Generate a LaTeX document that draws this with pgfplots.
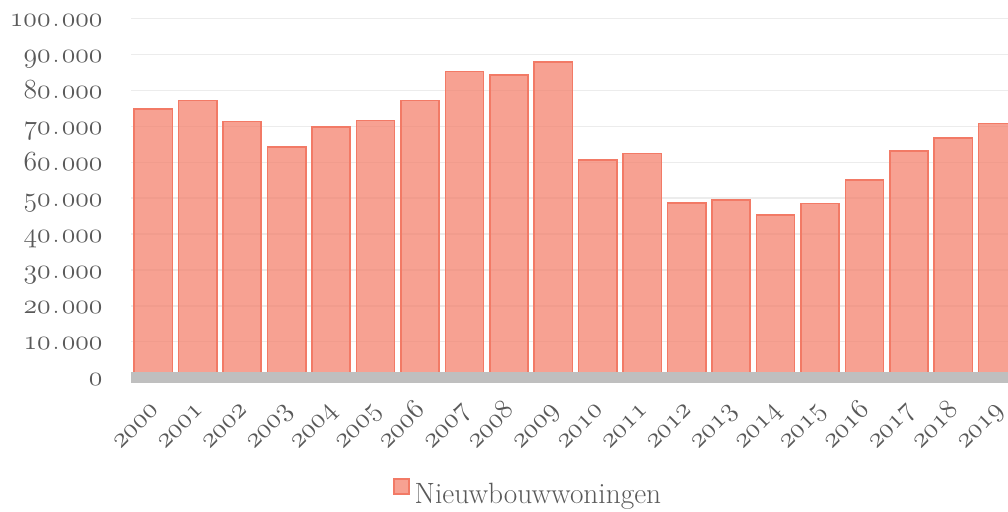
\documentclass[border=0pt]{standalone}
\usepackage{pgfplots}
\pgfplotsset{compat=1.18}
\newcommand\osf[1]{\mbox{\usefont{OML}{lmm}{m}{it}#1}}
\newcommand\sep{\hspace{1.6pt}.\hspace{1.6pt}}
\definecolor{barfill}{RGB}{244,130,110}
\definecolor{barline}{RGB}{242,122,102}
\definecolor{bandc}{RGB}{191,191,191}
\definecolor{gridc}{RGB}{236,236,236}
\definecolor{txt}{RGB}{89,89,89}
\begin{document}
\begin{tikzpicture}
\begin{axis}[
  at={(0,0)}, anchor=south west,
  scale only axis, width=657.7pt, height=273.5pt,
  xmin=-0.5, xmax=19.23, ymin=-1588, ymax=100000,
  axis line style={draw=none},
  major tick length=0pt,
  scaled y ticks=false,
  ymajorgrids, grid style={gridc, line width=1pt},
  ytick={0,10000,20000,30000,40000,50000,60000,70000,80000,90000,100000},
  yticklabels={\osf{0},\osf{10}\sep\osf{000},\osf{20}\sep\osf{000},\osf{30}\sep\osf{000},\osf{40}\sep\osf{000},\osf{50}\sep\osf{000},\osf{60}\sep\osf{000},\osf{70}\sep\osf{000},\osf{80}\sep\osf{000},\osf{90}\sep\osf{000},\osf{100}\sep\osf{000}},
  xtick={0,...,19},
  xticklabels={\osf{2000},\osf{2001},\osf{2002},\osf{2003},\osf{2004},\osf{2005},\osf{2006},\osf{2007},\osf{2008},\osf{2009},\osf{2010},\osf{2011},\osf{2012},\osf{2013},\osf{2014},\osf{2015},\osf{2016},\osf{2017},\osf{2018},\osf{2019}},
  yticklabel style={inner sep=0pt, anchor=base east, xshift=-21.3pt, yshift=-6.1pt, font=\fontsize{20.8}{24}\selectfont, text=txt},
  xticklabel style={inner sep=0pt, xshift=4.4pt, yshift=-20.9pt, rotate=45, anchor=base east, font=\fontsize{20.8}{24}\selectfont, text=txt},
  ybar, bar width=0.86,
  legend style={at={(0.299,-0.298)}, anchor=west, draw=none, fill=none, inner sep=0pt, outer sep=0pt, column sep=3.75pt, font=\fontsize{22}{26}\selectfont, text=txt, nodes={inner sep=0pt}},
  legend image code/.code={\draw[fill=barfill, fill opacity=0.75, draw=barline, line width=1.1pt] (0pt,0.6pt) rectangle (11.25pt,11.85pt);},
]
\addplot[fill=barfill, fill opacity=0.75, draw=barline, line width=1.2pt] coordinates {
(0,74900) (1,77200) (2,71300) (3,64300) (4,69900) (5,71600) (6,77200) (7,85300) (8,84300) (9,87900)
(10,60700) (11,62400) (12,48700) (13,49500) (14,45300) (15,48500) (16,55000) (17,63100) (18,66700) (19,70800)
};
\addlegendentry{Nieuwbouwwoningen}
\fill[bandc] (axis cs:-0.5,-1588) rectangle (axis cs:19.23,1643);
\end{axis}
\pgfresetboundingbox
\path[use as bounding box] (-98.3pt,-95.8pt) rectangle (657.7pt,287.5pt);
\end{tikzpicture}
\end{document}
